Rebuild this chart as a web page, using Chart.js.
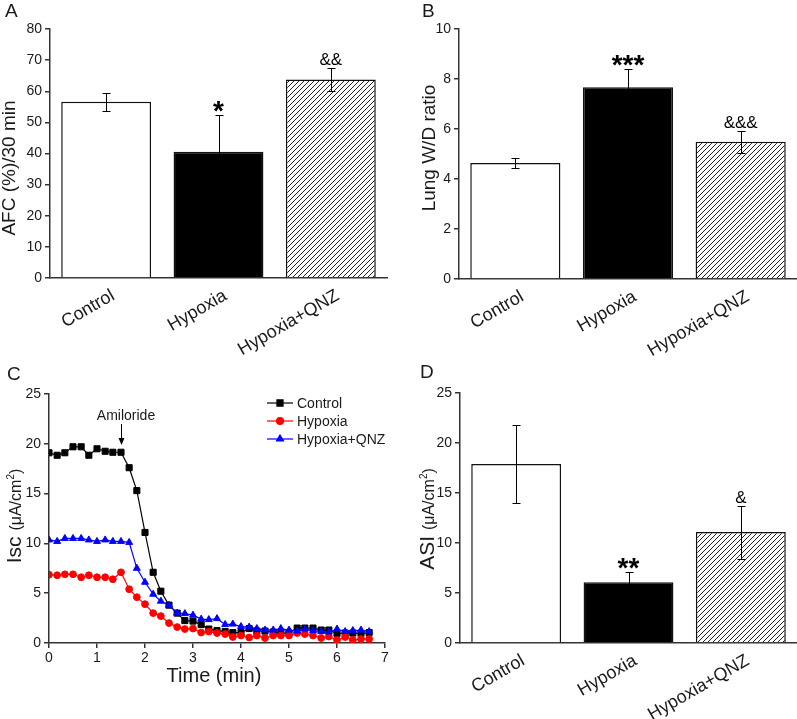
<!DOCTYPE html>
<html>
<head>
<meta charset="utf-8">
<script src="https://cdn.jsdelivr.net/npm/chart.js@4.4.1/dist/chart.umd.min.js"></script>
<style>
  body { margin: 0; background: #fff; }
  #wrap { position: relative; width: 797px; height: 719px; overflow: hidden; }
  canvas { position: absolute; }
</style>
</head>
<body>
<div id="wrap">
  <canvas id="panel-a" width="400" height="360" style="left:0;top:0;width:400px;height:360px"></canvas>
  <canvas id="panel-b" width="397" height="360" style="left:400px;top:0;width:397px;height:360px"></canvas>
  <canvas id="panel-c" width="400" height="359" style="left:0;top:360px;width:400px;height:359px"></canvas>
  <canvas id="panel-d" width="397" height="359" style="left:400px;top:360px;width:397px;height:359px"></canvas>
</div>
<script>
const FONT = 'Arial, "Liberation Sans", sans-serif';
const AXIS = '#333';
const TEXT = '#1a1a1a';

// bar panels
const groups = ['Control', 'Hypoxia', 'Hypoxia+QNZ'];

const afcMean = [56.6, 40.6, 63.8];
const afcErr = [2.9, 11.8, 3.8];
const afcMarks = ['', '*', '&&'];
const afcTicks = [0, 10, 20, 30, 40, 50, 60, 70, 80];

const wdMean = [4.64, 7.67, 5.49];
const wdErr = [0.21, 0.74, 0.43];
const wdMarks = ['', '***', '&&&'];
const wdTicks = [0, 2, 4, 6, 8, 10];

const asiMean = [17.9, 6.07, 11.1];
const asiErr = [3.87, 1.03, 2.65];
const asiMarks = ['', '**', '&'];
const asiTicks = [0, 5, 10, 15, 20, 25];

// Isc trace, one reading every 10 s
const timeMin = [0, 0.17, 0.33, 0.5, 0.67, 0.83, 1, 1.17, 1.33, 1.5,
  1.67, 1.83, 2, 2.17, 2.33, 2.5, 2.67, 2.83, 3, 3.17,
  3.33, 3.5, 3.67, 3.83, 4, 4.17, 4.33, 4.5, 4.67, 4.83,
  5, 5.17, 5.33, 5.5, 5.67, 5.83, 6, 6.17, 6.33, 6.5, 6.67];
const iscControl = [19.1, 18.85, 19.1, 19.7, 19.7, 18.85, 19.5, 19.25, 19.15, 19.15,
  17.6, 15.3, 11.1, 7.1, 5.2, 3.8, 3.0, 2.25, 2.2, 1.85,
  1.4, 1.25, 1.15, 1.05, 1.05, 1.45, 1.2, 1.2, 1.1, 1.0,
  1.0, 1.5, 1.5, 1.5, 1.3, 1.3, 0.95, 1.0, 1.0, 0.95, 1.05];
const iscHypoxia = [6.85, 6.8, 6.9, 6.9, 6.6, 6.8, 6.6, 6.6, 6.4, 7.1,
  5.4, 4.6, 3.9, 3.0, 2.7, 2.0, 1.6, 1.4, 1.45, 1.05,
  1.15, 1.0, 0.9, 0.6, 0.75, 0.55, 0.75, 0.5, 0.75, 0.75,
  0.75, 1.0, 0.9, 0.75, 0.5, 0.65, 0.3, 0.6, 0.3, 0.4, 0.4];
const iscQnz = [10.35, 10.2, 10.5, 10.5, 10.5, 10.35, 10.2, 10.35, 10.2, 10.2,
  10.1, 7.5, 6.1, 4.9, 4.2, 3.8, 3.0, 2.95, 2.8, 2.4,
  2.35, 2.45, 1.85, 1.9, 1.65, 1.6, 1.45, 1.3, 1.3, 1.45,
  1.3, 1.2, 1.4, 1.25, 1.15, 1.1, 1.4, 1.15, 1.25, 1.3, 1.15];
const timeTicks = [0, 1, 2, 3, 4, 5, 6, 7];
const iscTicks = [0, 5, 10, 15, 20, 25];

function hatchPattern(ctx) {
  const tile = document.createElement('canvas');
  tile.width = 5;
  tile.height = 5;
  const g = tile.getContext('2d');
  g.fillStyle = '#fff';
  g.fillRect(0, 0, 5, 5);
  g.strokeStyle = '#222';
  g.lineWidth = 1;
  g.beginPath();
  g.moveTo(0, 5); g.lineTo(5, 0);
  g.moveTo(-1, 1); g.lineTo(1, -1);
  g.moveTo(4, 6); g.lineTo(6, 4);
  g.stroke();
  return ctx.createPattern(tile, 'repeat');
}

// rotated axis title, parts = [text, size, shift]
function drawYTitle(ctx, parts, baseX, midY) {
  ctx.save();
  ctx.fillStyle = TEXT;
  ctx.textAlign = 'left';
  ctx.textBaseline = 'alphabetic';
  let total = 0;
  parts.forEach(p => {
    ctx.font = `${p[1]}px ${FONT}`;
    total += ctx.measureText(p[0]).width;
  });
  ctx.translate(baseX, midY);
  ctx.rotate(-Math.PI / 2);
  let x = -total / 2;
  parts.forEach(p => {
    ctx.font = `${p[1]}px ${FONT}`;
    ctx.fillText(p[0], x, p[2] || 0);
    x += ctx.measureText(p[0]).width;
  });
  ctx.restore();
}

function drawLetter(ctx, letter, x, y) {
  ctx.save();
  ctx.fillStyle = TEXT;
  ctx.font = `19px ${FONT}`;
  ctx.textAlign = 'left';
  ctx.textBaseline = 'alphabetic';
  ctx.fillText(letter, x, y);
  ctx.restore();
}

function barExtras(cfg) {
  return {
    id: 'barExtras',
    afterDatasetsDraw(chart) {
      const ctx = chart.ctx;
      const y = chart.scales.y;
      const meta = chart.getDatasetMeta(0);
      ctx.save();
      ctx.strokeStyle = '#000';
      ctx.lineWidth = 1;
      meta.data.forEach((bar, i) => {
        const x = Math.round(bar.x) + 0.5;
        const top = Math.round(y.getPixelForValue(cfg.mean[i] + cfg.err[i])) + 0.5;
        const bot = Math.round(y.getPixelForValue(cfg.mean[i] - cfg.err[i])) + 0.5;
        ctx.beginPath();
        ctx.moveTo(x, top); ctx.lineTo(x, bot);
        ctx.moveTo(x - 4, top); ctx.lineTo(x + 4, top);
        ctx.moveTo(x - 4, bot); ctx.lineTo(x + 4, bot);
        ctx.stroke();

        const mark = cfg.marks[i];
        if (!mark) return;
        ctx.fillStyle = '#000';
        ctx.textAlign = 'center';
        ctx.textBaseline = 'alphabetic';
        if (mark.includes('*')) {
          ctx.font = `bold 28px ${FONT}`;
          ctx.fillText(mark, bar.x, top + 4);
        } else {
          ctx.font = `17px ${FONT}`;
          ctx.fillText(mark, bar.x, top - 4);
        }
      });
      ctx.restore();
    },
    afterDraw(chart) {
      drawYTitle(chart.ctx, cfg.title, cfg.titleX, cfg.titleY);
      drawLetter(chart.ctx, cfg.letter, cfg.letterX, cfg.letterY);
    }
  };
}

function barChart(id, cfg) {
  const ctx = document.getElementById(id).getContext('2d');
  return new Chart(ctx, {
    type: 'bar',
    data: {
      labels: groups,
      datasets: [{
        data: cfg.mean,
        backgroundColor: ['#fff', '#000', hatchPattern(ctx)],
        borderColor: '#111',
        borderWidth: 1.5,
        barPercentage: 0.8,
        categoryPercentage: 1
      }]
    },
    options: {
      responsive: false,
      animation: false,
      devicePixelRatio: 1,
      layout: { padding: cfg.padding },
      plugins: { legend: { display: false }, tooltip: { enabled: false } },
      scales: {
        x: {
          grid: { display: false, drawTicks: false },
          border: { display: true, color: AXIS, width: 1.5 },
          ticks: {
            color: TEXT,
            font: { family: FONT, size: 18 },
            minRotation: 30,
            maxRotation: 30,
            autoSkip: false,
            padding: 7,
            labelOffset: 7
          },
          afterFit: s => { s.height = cfg.xHeight; }
        },
        y: {
          min: 0,
          max: cfg.ticks[cfg.ticks.length - 1],
          afterBuildTicks: s => { s.ticks = cfg.ticks.map(v => ({ value: v })); },
          grid: { drawOnChartArea: false, tickLength: 5, color: AXIS, lineWidth: 1.5 },
          border: { color: AXIS, width: 1.5 },
          ticks: { color: TEXT, font: { family: FONT, size: 14 }, padding: 3 },
          afterFit: s => { s.width = cfg.yWidth; }
        }
      }
    },
    plugins: [barExtras(cfg)]
  });
}

barChart('panel-a', {
  mean: afcMean, err: afcErr, marks: afcMarks, ticks: afcTicks,
  padding: { top: 29, right: 13, left: 0, bottom: 0 },
  yWidth: 50, xHeight: 82,
  title: [['AFC (%)/30 min', 19]], titleX: 15, titleY: 168,
  letter: 'A', letterX: 5, letterY: 17
});

barChart('panel-b', {
  mean: wdMean, err: wdErr, marks: wdMarks, ticks: wdTicks,
  padding: { top: 29, right: 0, left: 0, bottom: 0 },
  yWidth: 59, xHeight: 81,
  title: [['Lung W/D ratio', 19]], titleX: 35, titleY: 148,
  letter: 'B', letterX: 22, letterY: 17
});

barChart('panel-d', {
  mean: asiMean, err: asiErr, marks: asiMarks, ticks: asiTicks,
  padding: { top: 33, right: 0, left: 0, bottom: 0 },
  yWidth: 60, xHeight: 76,
  title: [['ASI ', 21], ['(\u03bcA/cm', 16], ['2', 10, -7], [')', 16]], titleX: 33.5, titleY: 159,
  letter: 'D', letterX: 20, letterY: 18
});

// panel C, short-circuit current trace
const traceLegend = [
  ['Control', '#000', 'rect', 4.3],
  ['Hypoxia', '#ff0000', 'circle', 3.4],
  ['Hypoxia+QNZ', '#0000ff', 'triangle', 4]
];

const traceExtras = {
  id: 'traceExtras',
  afterDraw(chart) {
    const ctx = chart.ctx;
    const xs = chart.scales.x;

    // legend
    ctx.save();
    traceLegend.forEach((row, i) => {
      const ly = 43 + i * 18;
      ctx.strokeStyle = row[1];
      ctx.fillStyle = row[1];
      ctx.lineWidth = 1.2;
      ctx.beginPath();
      ctx.moveTo(267, ly); ctx.lineTo(293, ly);
      ctx.stroke();
      Chart.helpers.drawPoint(ctx, { pointStyle: row[2], radius: row[3], borderWidth: 1, rotation: 0 }, 280, ly);
      ctx.fillStyle = TEXT;
      ctx.font = `14px ${FONT}`;
      ctx.textAlign = 'left';
      ctx.textBaseline = 'middle';
      ctx.fillText(row[0], 297, ly + 1);
    });

    // amiloride marker
    const ax = Math.round(xs.getPixelForValue(1.5)) + 0.5;
    ctx.fillStyle = TEXT;
    ctx.font = `14px ${FONT}`;
    ctx.textAlign = 'center';
    ctx.textBaseline = 'alphabetic';
    ctx.fillText('Amiloride', 126, 60);
    ctx.strokeStyle = '#000';
    ctx.fillStyle = '#000';
    ctx.lineWidth = 1;
    ctx.beginPath();
    ctx.moveTo(ax, 64); ctx.lineTo(ax, 80);
    ctx.stroke();
    ctx.beginPath();
    ctx.moveTo(ax - 3, 78); ctx.lineTo(ax + 3, 78); ctx.lineTo(ax, 85);
    ctx.closePath();
    ctx.fill();

    // axis titles
    ctx.fillStyle = TEXT;
    ctx.font = `20px ${FONT}`;
    ctx.textAlign = 'center';
    ctx.fillText('Time (min)', (xs.left + xs.right) / 2 - 3, 322);
    ctx.restore();

    drawYTitle(ctx, [['Isc ', 21], ['(\u03bcA/cm', 16], ['2', 10, -7], [')', 16]], 20.5, 156);
    drawLetter(ctx, 'C', 7, 20);
  }
};

function series(label, values, color, style, radius, order) {
  return {
    label,
    data: timeMin.map((t, i) => ({ x: t, y: values[i] })),
    borderColor: color,
    backgroundColor: color,
    pointBackgroundColor: color,
    pointBorderColor: color,
    pointStyle: style,
    pointRadius: radius,
    pointBorderWidth: 1,
    borderWidth: 1.2,
    tension: 0,
    order
  };
}

new Chart(document.getElementById('panel-c').getContext('2d'), {
  type: 'line',
  data: {
    datasets: [
      series('Control', iscControl, '#000', 'rect', 4.3, 2),
      series('Hypoxia', iscHypoxia, '#ff0000', 'circle', 3.4, 1),
      series('Hypoxia+QNZ', iscQnz, '#0000ff', 'triangle', 4, 0)
    ]
  },
  options: {
    responsive: false,
    animation: false,
    devicePixelRatio: 1,
    layout: { padding: { top: 34, right: 15, left: 0, bottom: 0 } },
    plugins: { legend: { display: false }, tooltip: { enabled: false } },
    scales: {
      x: {
        type: 'linear',
        min: 0,
        max: 7,
        afterBuildTicks: s => { s.ticks = timeTicks.map(v => ({ value: v })); },
        grid: { drawOnChartArea: false, tickLength: 5, color: AXIS, lineWidth: 1.5 },
        border: { color: AXIS, width: 1.5 },
        ticks: { color: TEXT, font: { family: FONT, size: 14 }, padding: 2 },
        afterFit: s => { s.height = 76; }
      },
      y: {
        min: 0,
        max: 25,
        afterBuildTicks: s => { s.ticks = iscTicks.map(v => ({ value: v })); },
        grid: { drawOnChartArea: false, tickLength: 5, color: AXIS, lineWidth: 1.5 },
        border: { color: AXIS, width: 1.5 },
        ticks: { color: TEXT, font: { family: FONT, size: 14 }, padding: 3 },
        afterFit: s => { s.width = 49; }
      }
    }
  },
  plugins: [traceExtras]
});
</script>
</body>
</html>
